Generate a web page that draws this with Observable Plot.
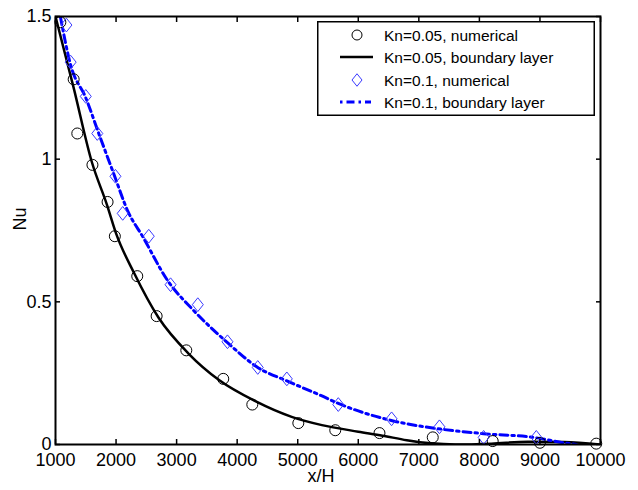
<!DOCTYPE html>
<html>
<head>
<meta charset="utf-8">
<script src="https://cdn.jsdelivr.net/npm/d3@7"></script>
<script src="https://cdn.jsdelivr.net/npm/@observablehq/plot@0.6"></script>
<style>
  body { margin: 0; background: white; }
  #wrap { position: relative; width: 638px; height: 490px; font-family: "Liberation Sans", Arial, sans-serif; }
  #legend { position: absolute; left: 317px; top: 21px; }
</style>
</head>
<body>
<div id="wrap"></div>
<script>
// ---- data ----
const seriesNames = ["Kn=0.05, numerical", "Kn=0.05, boundary layer", "Kn=0.1, numerical", "Kn=0.1, boundary layer"];

const kn05NumX = [1080, 1300, 1360, 1610, 1860, 1980, 2350, 2670, 3160, 3770, 4250, 5010, 5620, 6350, 7230, 8220, 9000, 9930];
const kn05NumY = [1.48, 1.28, 1.09, 0.98, 0.85, 0.73, 0.59, 0.45, 0.33, 0.23, 0.14, 0.075, 0.05, 0.04, 0.025, 0.012, 0.006, 0.003];

const kn05BLX = [1000, 1300, 1600, 1850, 2000, 2300, 2700, 3200, 3700, 4300, 4900, 5400, 6000, 6400, 6800, 7200, 7600, 8200, 8800, 9400, 10000];
const kn05BLY = [1.50, 1.25, 0.99, 0.84, 0.74, 0.60, 0.445, 0.318, 0.226, 0.152, 0.097, 0.068, 0.045, 0.031, 0.015, 0.004, 0.0, 0.003, 0.01, 0.009, 0.0];

const kn10NumX = [1180, 1250, 1500, 1690, 1990, 2110, 2540, 2900, 3350, 3840, 4340, 4820, 5670, 6550, 7340, 8070, 8940];
const kn10NumY = [1.47, 1.34, 1.22, 1.09, 0.94, 0.81, 0.73, 0.56, 0.49, 0.36, 0.27, 0.23, 0.14, 0.09, 0.062, 0.025, 0.025];

const kn10BLX = [1080, 1250, 1500, 1740, 1960, 2190, 2450, 2850, 3280, 3840, 4340, 4830, 5380, 5670, 6530, 7360, 8070, 8890, 9390, 9600];
const kn10BLY = [1.50, 1.33, 1.215, 1.075, 0.95, 0.82, 0.725, 0.575, 0.47, 0.357, 0.27, 0.222, 0.172, 0.144, 0.085, 0.054, 0.038, 0.025, 0.006, 0.0];

const xTicks = [1000, 2000, 3000, 4000, 5000, 6000, 7000, 8000, 9000, 10000];
const yTicks = [0, 0.5, 1, 1.5];
const xLabel = "x/H";
const yLabel = "Nu";

// ---- build ----
const zip = (xs, ys) => xs.map((x, i) => ({x, y: ys[i]}));
const kn05Num = zip(kn05NumX, kn05NumY);
const kn05BL = zip(kn05BLX, kn05BLY);
const kn10Num = zip(kn10NumX, kn10NumY);
const kn10BL = zip(kn10BLX, kn10BLY);

const rhombus = {
  draw(context, size) {
    const r = Math.sqrt(size / Math.PI);
    const w = r, h = r * 1.25;
    context.moveTo(0, -h);
    context.lineTo(w, 0);
    context.lineTo(0, h);
    context.lineTo(-w, 0);
    context.closePath();
  }
};

const fmt = d => String(d);
const blue = "#0000ff";
const markerBlue = "#3a3aff";
const dashDot = "8,4,2.5,4";

const chart = Plot.plot({
  width: 638,
  height: 490,
  marginLeft: 55,
  marginRight: 38,
  marginTop: 16,
  marginBottom: 46,
  x: {domain: [1000, 10000], label: null},
  y: {domain: [0, 1.5], label: null},
  style: {fontFamily: "'Liberation Sans', Arial, sans-serif", fontSize: "18px", color: "black", background: "white"},
  marks: [
    Plot.line(kn05BL, {x: "x", y: "y", stroke: "black", strokeWidth: 2.5, curve: "monotone-x", clip: true}),
    Plot.line(kn10BL, {x: "x", y: "y", stroke: blue, strokeWidth: 3, strokeDasharray: dashDot, curve: "monotone-x", clip: true}),
    Plot.dot(kn05Num, {x: "x", y: "y", r: 5.5, stroke: "black", strokeWidth: 1, fill: "none"}),
    Plot.dot(kn10Num, {x: "x", y: "y", r: 5.5, symbol: rhombus, stroke: markerBlue, strokeWidth: 1, fill: "none"}),
    Plot.axisX(xTicks, {anchor: "bottom", tickSize: -5, tickPadding: 14, strokeWidth: 1.5, tickFormat: fmt, label: null}),
    Plot.axisX(xTicks, {anchor: "top", tickSize: -5, strokeWidth: 1.5, tickFormat: () => "", label: null}),
    Plot.axisY(yTicks, {anchor: "left", tickSize: -5, tickPadding: 9, strokeWidth: 1.5, tickFormat: fmt, label: null}),
    Plot.axisY(yTicks, {anchor: "right", tickSize: -5, strokeWidth: 1.5, tickFormat: () => "", label: null}),
    Plot.frame({stroke: "black", strokeWidth: 2}),
    Plot.text([xLabel], {frameAnchor: "bottom", text: d => d, dy: 37, dx: -7, fontSize: 18}),
    Plot.text([yLabel], {frameAnchor: "left", text: d => d, dx: -35, rotate: -90, fontSize: 18})
  ]
});

const wrap = document.getElementById("wrap");
wrap.appendChild(chart);

// ---- legend ----
const lg = d3.select(wrap).append("svg")
  .attr("id", "legend")
  .attr("width", 278).attr("height", 95)
  .style("font-family", "'Liberation Sans', Arial, sans-serif");
lg.append("rect").attr("x", 0.75).attr("y", 0.75).attr("width", 276.5).attr("height", 93.5)
  .attr("fill", "white").attr("stroke", "black").attr("stroke-width", 1.5);
const rowY = [14, 36, 59, 81];
lg.append("circle").attr("cx", 40).attr("cy", rowY[0]).attr("r", 5).attr("fill", "none").attr("stroke", "black").attr("stroke-width", 1);
lg.append("line").attr("x1", 23).attr("x2", 56).attr("y1", rowY[1]).attr("y2", rowY[1]).attr("stroke", "black").attr("stroke-width", 2.5);
lg.append("path").attr("d", d3.symbol(rhombus, Math.PI * 5 * 5)()).attr("transform", `translate(40,${rowY[2]})`)
  .attr("fill", "none").attr("stroke", markerBlue).attr("stroke-width", 1);
lg.append("line").attr("x1", 23).attr("x2", 54).attr("y1", rowY[3]).attr("y2", rowY[3]).attr("stroke", blue).attr("stroke-width", 3).attr("stroke-dasharray", "2.5,4,8,4");
seriesNames.forEach((name, i) => {
  lg.append("text").attr("x", 67).attr("y", rowY[i]).attr("dy", "0.36em")
    .attr("font-size", 15.5).attr("fill", "black").text(name);
});
</script>
</body>
</html>
